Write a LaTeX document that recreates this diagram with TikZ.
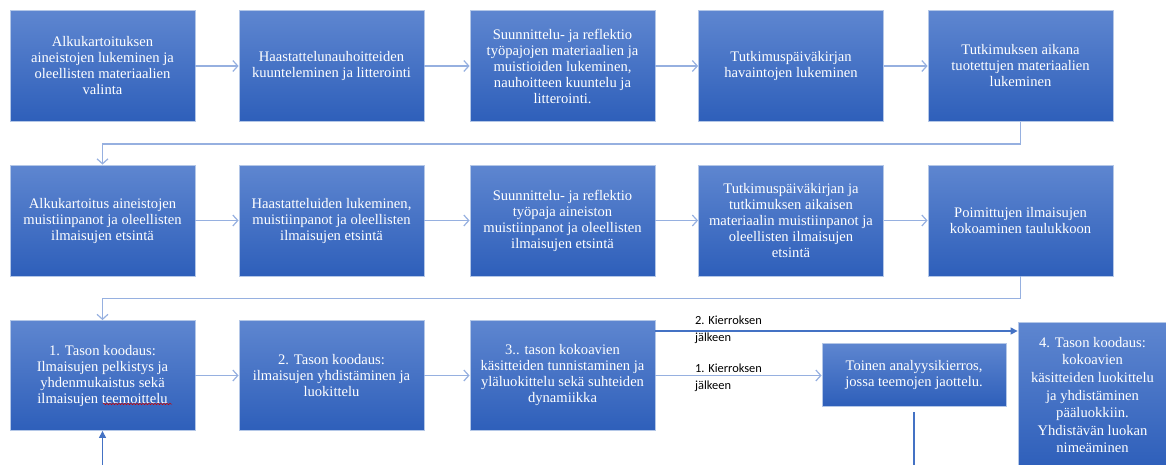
\documentclass[tikz,border=0pt]{standalone}
\usepackage{fontspec}
\setmainfont{Liberation Serif}
\newfontfamily\laatikkofont{Liberation Serif}
\newfontfamily\kierrosfont{Carlito}
\usepackage{tikz}
\usetikzlibrary{shapes,arrows.meta,positioning,calc,decorations.pathmorphing}
\definecolor{ylin}{RGB}{94,134,208}
\definecolor{alin}{RGB}{46,95,186}
\definecolor{reuna}{RGB}{180,199,231}
\definecolor{vaalea}{RGB}{150,176,224}
\definecolor{tumma}{RGB}{68,114,196}
\tikzset{
  vaihe/.style={shape=rectangle,draw=reuna,line width=0.8pt,top color=ylin,bottom color=alin,
    minimum width=185pt,minimum height=111pt,align=center,text=white,
    font=\laatikkofont\fontsize{14.6}{16}\selectfont,inner sep=1pt},
  nuoli/.style={draw=vaalea,line width=1.6pt,-{Straight Barb[length=5pt,width=11pt,line width=1.2pt]}},
  tnuoli/.style={draw=tumma,line width=1.1pt,-{Triangle[length=7pt,width=7pt]}},
  kierros/.style={align=left,inner sep=0pt,anchor=north west,text=black,
    font=\kierrosfont\fontsize{12.4}{17}\selectfont}
}
\begin{document}
\begin{tikzpicture}[x=1pt,y=-1pt]
  \useasboundingbox (0,0) rectangle (1166,464);
  \path (102.5,66) node (a1) [vaihe] {Alkukartoituksen\\aineistojen lukeminen ja\\oleellisten materiaalien\\valinta}
  (331.5,66) node (a2) [vaihe] {Haastattelunauhoitteiden\\kuunteleminen ja litterointi}
  (562.5,66) node (a3) [vaihe] {Suunnittelu- ja reflektio\\työpajojen materiaalien ja\\muistioiden lukeminen,\\nauhoitteen kuuntelu ja\\litterointi.}
  (791,66) node (a4) [vaihe] {Tutkimuspäiväkirjan\\havaintojen lukeminen}
  (1020.5,66) node (a5) [vaihe] {Tutkimuksen aikana\\tuotettujen materiaalien\\lukeminen};
  \path (102.5,220.5) node (b1) [vaihe] {Alkukartoitus aineistojen\\muistiinpanot ja oleellisten\\ilmaisujen etsintä}
  (331.5,220.5) node (b2) [vaihe] {Haastatteluiden lukeminen,\\muistiinpanot ja oleellisten\\ilmaisujen etsintä}
  (562.5,220.5) node (b3) [vaihe] {Suunnittelu- ja reflektio\\työpaja aineiston\\muistiinpanot ja oleellisten\\ilmaisujen etsintä}
  (791,220.5) node (b4) [vaihe] {Tutkimuspäiväkirjan ja\\tutkimuksen aikaisen\\materiaalin muistiinpanot ja\\oleellisten ilmaisujen\\etsintä}
  (1020.5,220.5) node (b5) [vaihe] {Poimittujen ilmaisujen\\kokoaminen taulukkoon};
  \path (102.5,375.5) node (c1) [vaihe,minimum height=110pt] {1. Tason koodaus:\\Ilmaisujen pelkistys ja\\yhdenmukaistus sekä\\ilmaisujen teemoittelu}
  (331.5,375.5) node (c2) [vaihe,minimum height=110pt] {2. Tason koodaus:\\ilmaisujen yhdistäminen ja\\luokittelu}
  (562.5,375.5) node (c3) [vaihe,minimum height=110pt] {3.. tason kokoavien\\käsitteiden tunnistaminen ja\\yläluokittelu sekä suhteiden\\dynamiikka}
  (914,374.5) node (toinen) [vaihe,minimum width=184pt,minimum height=63pt] {Toinen analyysikierros,\\jossa teemojen jaottelu.}
  (1092.5,395) node (c4) [vaihe,minimum width=149pt,minimum height=146pt,font=\laatikkofont\fontsize{14.6}{17.6}\selectfont] {4. Tason koodaus:\\kokoavien\\käsitteiden luokittelu\\ja yhdistäminen\\pääluokkiin.\\Yhdistävän luokan\\nimeäminen};
  \draw[decorate,decoration={snake,amplitude=0.7pt,segment length=3pt},red!80!black,line width=0.5pt]
    (103,404) -- (172,404);
  \draw[nuoli] (a1) -- (a2);
  \draw[nuoli] (a2) -- (a3);
  \draw[nuoli] (a3) -- (a4);
  \draw[nuoli] (a4) -- (a5);
  \draw[nuoli] (a5.south) -- ++(0,22) -| (b1.north);
  \draw[nuoli] (b1) -- (b2);
  \draw[nuoli] (b2) -- (b3);
  \draw[nuoli] (b3) -- (b4);
  \draw[nuoli] (b4) -- (b5);
  \draw[nuoli] (b5.south) -- ++(0,22) -| (c1.north);
  \draw[nuoli] (c1) -- (c2);
  \draw[nuoli] (c2) -- (c3);
  \draw[nuoli] (c3.east) -- (c3.east -| toinen.west);
  \draw[tnuoli] (c3.east) ++(0,-44.5) coordinate (k2) -- (k2 -| c4.west);
  \coordinate (alas) at (914,470);
  \coordinate (ylos) at (102.5,470);
  \draw[draw=tumma,line width=1.1pt] ([yshift=-6pt]toinen.south) -- (alas);
  \draw[tnuoli] (ylos) -- (c1.south);
  \node (kierros2) [kierros] at (695,316) {2. Kierroksen\\jälkeen};
  \node (kierros1) [kierros] at (695,364) {1. Kierroksen\\jälkeen};
\end{tikzpicture}
\end{document}
